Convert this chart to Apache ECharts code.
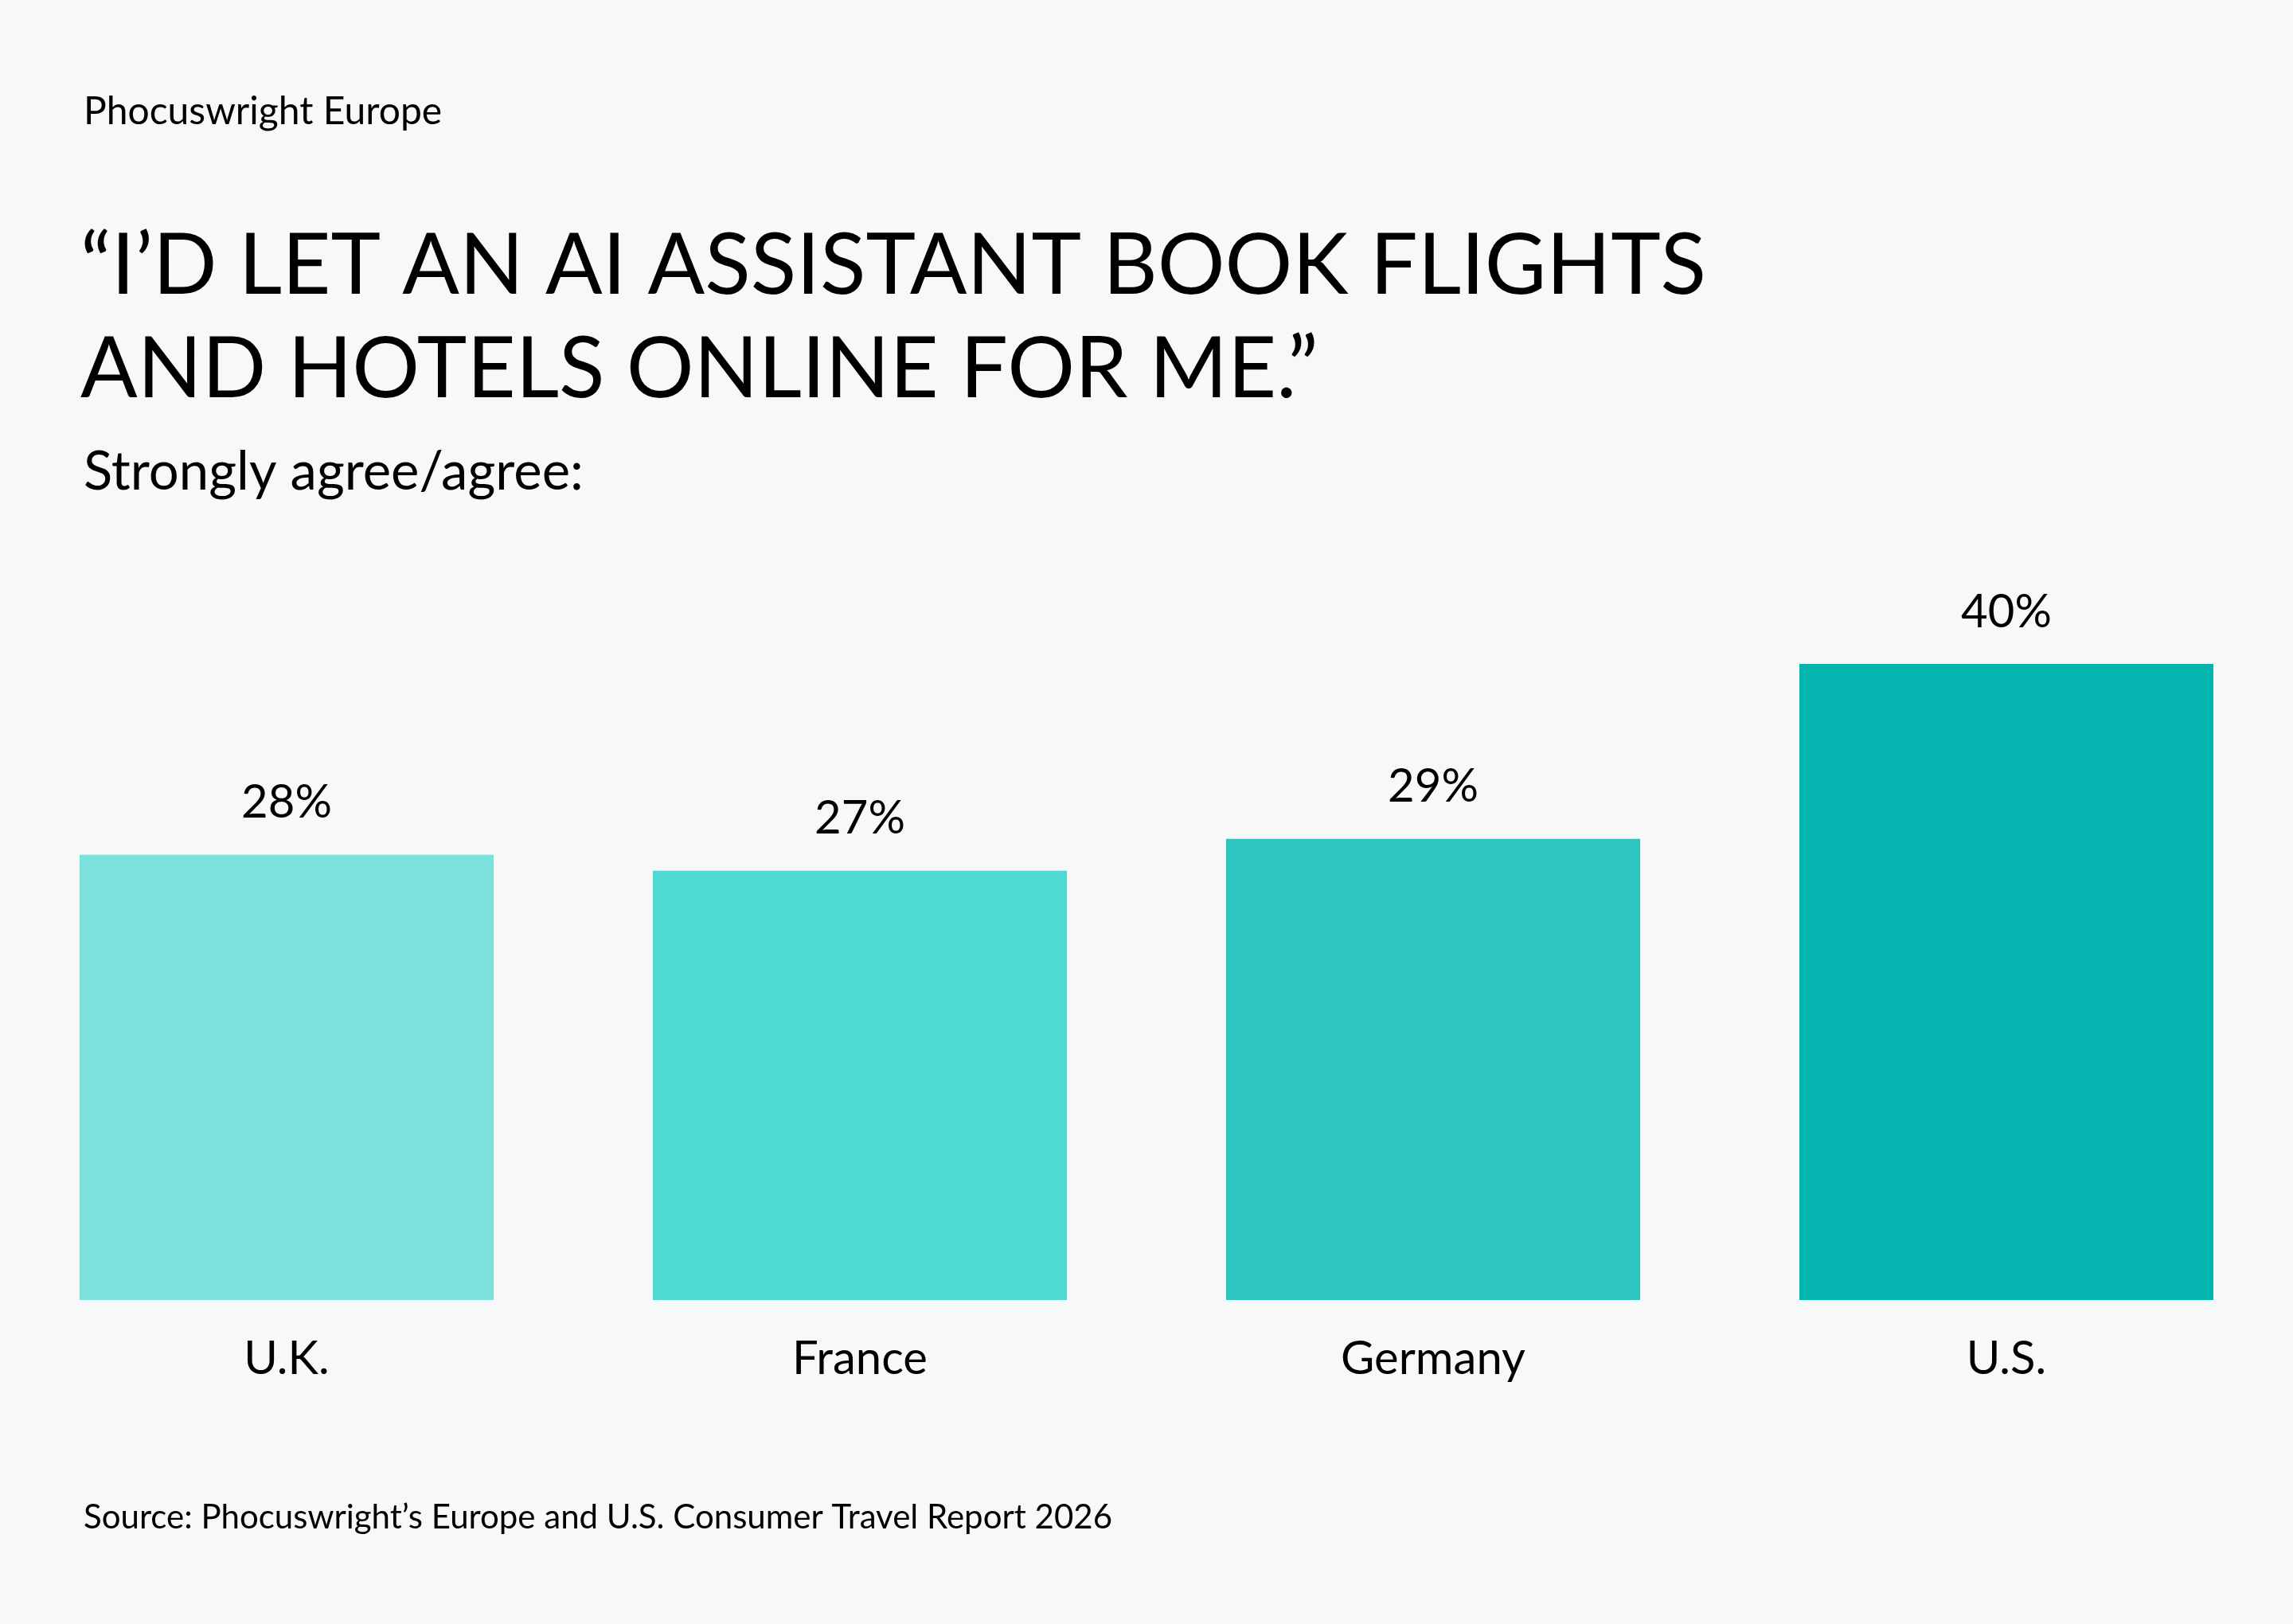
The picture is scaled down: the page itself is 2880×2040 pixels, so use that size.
<!DOCTYPE html>
<html>
<head>
<meta charset="utf-8">
<script src="https://cdn.jsdelivr.net/npm/echarts@6/dist/echarts.min.js"></script>
<style>
  html, body { margin: 0; padding: 0; background: #f7f9f9; }
  #chart { width: 2880px; height: 2040px; }
</style>
</head>
<body>
<div id="chart"></div>
<script>
var countries = ['U.K.', 'France', 'Germany', 'U.S.'];
var agreeShare = [28, 27, 29, 40];
var barColors = ['#7ce3dc', '#4fd9d3', '#2ec5c0', '#04b4ae'];

var dom = document.getElementById('chart');
var chart = echarts.init(dom, null, { renderer: 'canvas' });

var font = 'Lato';

var option = {
    backgroundColor: '#f7f9f9',
    textStyle: { fontFamily: font },
    title: [
        {
            text: 'Phocuswright Europe',
            left: 100, top: 112,
            textStyle: { fontFamily: font, fontSize: 48, fontWeight: 'normal', color: '#000' }
        },
        {
            text: '\u201CI\u2019D LET AN AI ASSISTANT BOOK FLIGHTS\nAND HOTELS ONLINE FOR ME.\u201D',
            left: 96, top: 265,
            textStyle: { fontFamily: font, fontSize: 106, fontWeight: 'normal', color: '#000', lineHeight: 130 }
        },
        {
            text: 'Strongly agree/agree:',
            left: 100, top: 555,
            textStyle: { fontFamily: font, fontSize: 67, fontWeight: 'normal', color: '#000' }
        },
        {
            text: 'Source: Phocuswright\u2019s Europe and U.S. Consumer Travel Report 2026',
            left: 100, top: 1880,
            textStyle: { fontFamily: font, fontSize: 42, fontWeight: 'normal', color: '#000' }
        }
    ],
    grid: { left: 0, right: 0, top: 834, bottom: 407 },
    xAxis: {
        type: 'category',
        data: countries,
        axisLine: { show: false },
        axisTick: { show: false },
        axisLabel: { fontFamily: font, fontSize: 58, color: '#000', margin: 45 }
    },
    yAxis: {
        type: 'value',
        min: 0, max: 40,
        show: false,
        splitLine: { show: false }
    },
    series: [
        {
            type: 'bar',
            barWidth: 520,
            data: agreeShare.map(function (v, i) {
                return { value: v, itemStyle: { color: barColors[i] } };
            }),
            label: {
                show: true,
                position: 'top',
                distance: 36,
                formatter: '{c}%',
                fontFamily: font,
                fontSize: 58,
                color: '#000'
            }
        }
    ]
};

chart.setOption(option);
window.addEventListener('resize', chart.resize);
</script>
</body>
</html>
